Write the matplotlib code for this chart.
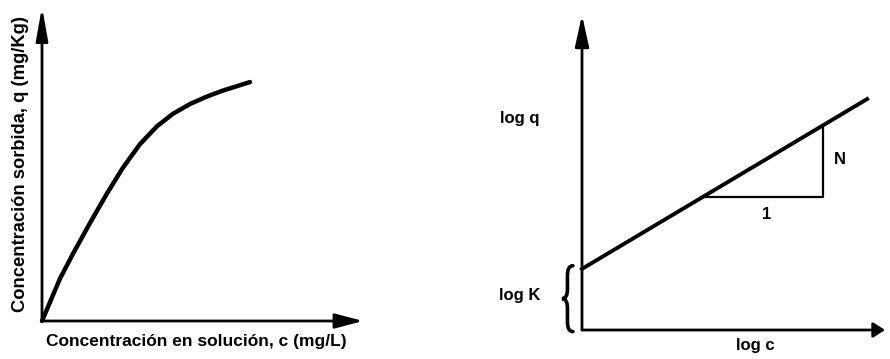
import matplotlib
matplotlib.use("Agg")
import matplotlib.pyplot as plt
import numpy as np
from matplotlib.path import Path
from matplotlib.patches import PathPatch

plt.rcParams['font.family'] = ['Liberation Sans', 'DejaVu Sans']
plt.rcParams['font.weight'] = 'bold'

# --- Left panel: sorption isotherm q vs c (arbitrary units 0-10) ---
c_vals = [0.0, 0.56, 0.97, 1.50, 2.03, 2.52, 3.05, 3.58, 4.08, 4.61, 5.14,
          5.64, 6.48]
q_vals = [0.0, 1.35, 2.15, 3.13, 4.07, 4.88, 5.63, 6.20, 6.60, 6.91, 7.15,
          7.34, 7.61]
left_xlabel = "Concentración en solución, c (mg/L)"
left_ylabel = "Concentración sorbida, q (mg/Kg)"

# --- Right panel: Freundlich linearisation log q = log K + N log c ---
log_K = 1.94
N_slope = 0.573
logc_range = [0.0, 9.41]
tri_logc = [3.96, 7.95]
right_labels = {"logq": "log q", "logK": "log K", "logc": "log c",
                "one": "1", "N": "N"}

W, H = 890, 359
fig = plt.figure(figsize=(W / 100, H / 100), dpi=100)
fig.patch.set_facecolor("white")


def px_axes(x0, y0, x1, y1):
    """Axes whose box spans pixel corners (x0, y0) bottom-left to (x1, y1) top-right."""
    ax = fig.add_axes([x0 / W, (H - y0) / H, (x1 - x0) / W, (y0 - y1) / H])
    ax.set_xlim(0, 10)
    ax.set_ylim(0, 10)
    ax.axis("off")
    ax.patch.set_alpha(0)
    return ax


def axis_arrow(ax, end, hl, hw, lw):
    ax.annotate("", xy=end, xytext=(0, 0), xycoords="axes fraction",
                textcoords="axes fraction",
                arrowprops=dict(arrowstyle=f"-|>,head_length={hl},head_width={hw}",
                                lw=lw, color="black", fc="black",
                                shrinkA=0, shrinkB=0, mutation_scale=10),
                annotation_clip=False)


FS = 12

# Left panel
axL = px_axes(42, 321, 363, 7)
axis_arrow(axL, (1, 0), 1.7, 0.45, 2.0)
axis_arrow(axL, (0, 1), 2.0, 0.36, 2.0)
axL.plot(c_vals, q_vals, color="black", lw=3.2, solid_capstyle="round",
         solid_joinstyle="round", clip_on=False)
axL.text(4.80, -0.64, left_xlabel, ha="center", va="center", fontsize=12.5,
         fontweight="bold")
axL.text(-0.68, 5.0, left_ylabel, ha="center", va="center", fontsize=13.2,
         fontweight="bold", rotation=90)

# Right panel
axR = px_axes(582, 330, 885, 15)
axis_arrow(axR, (1, 0), 0.7, 0.45, 2.0)
axis_arrow(axR, (0, 1), 1.9, 0.42, 2.0)
lc = np.array(logc_range)
axR.plot(lc, log_K + N_slope * lc, color="black", lw=2.8, clip_on=False)

# slope triangle
x0t, x1t = tri_logc
y0t = log_K + N_slope * x0t
y1t = log_K + N_slope * x1t
axR.plot([x0t, x1t, x1t], [y0t, y0t, y1t], color="black", lw=1.6,
         clip_on=False)
axR.text((x0t + x1t) / 2 + 0.15, y0t - 0.55, right_labels["one"], ha="center",
         va="center", fontsize=FS, fontweight="bold")
axR.text(x1t + 0.55, (y0t + y1t) / 2 + 0.05, right_labels["N"], ha="center",
         va="center", fontsize=FS, fontweight="bold")

axR.text(-2.05, 6.73, right_labels["logq"], ha="center", va="center",
         fontsize=FS, fontweight="bold")
axR.text(-2.05, 1.11, right_labels["logK"], ha="center", va="center",
         fontsize=FS, fontweight="bold")
axR.text(5.71, -0.48, right_labels["logc"], ha="center", va="center",
         fontsize=FS, fontweight="bold")

# curly brace spanning 0 .. log K along the vertical axis
xr, xm, xl = -0.30, -0.48, -0.66
yt, yb = log_K + 0.1, -0.05
ym = (yt + yb) / 2
d = 0.3
verts = [(xr, yt), (xm, yt), (xm, yt - d),
         (xm, ym + d),
         (xm, ym), (xl, ym),
         (xm, ym), (xm, ym - d),
         (xm, yb + d),
         (xm, yb), (xr, yb)]
codes = [Path.MOVETO, Path.CURVE3, Path.CURVE3,
         Path.LINETO,
         Path.CURVE3, Path.CURVE3,
         Path.CURVE3, Path.CURVE3,
         Path.LINETO,
         Path.CURVE3, Path.CURVE3]
axR.add_patch(PathPatch(Path(verts, codes), fc="none", ec="black", lw=2.6,
                        clip_on=False, capstyle="round"))

fig.savefig("out.png", dpi=100, facecolor="white")
